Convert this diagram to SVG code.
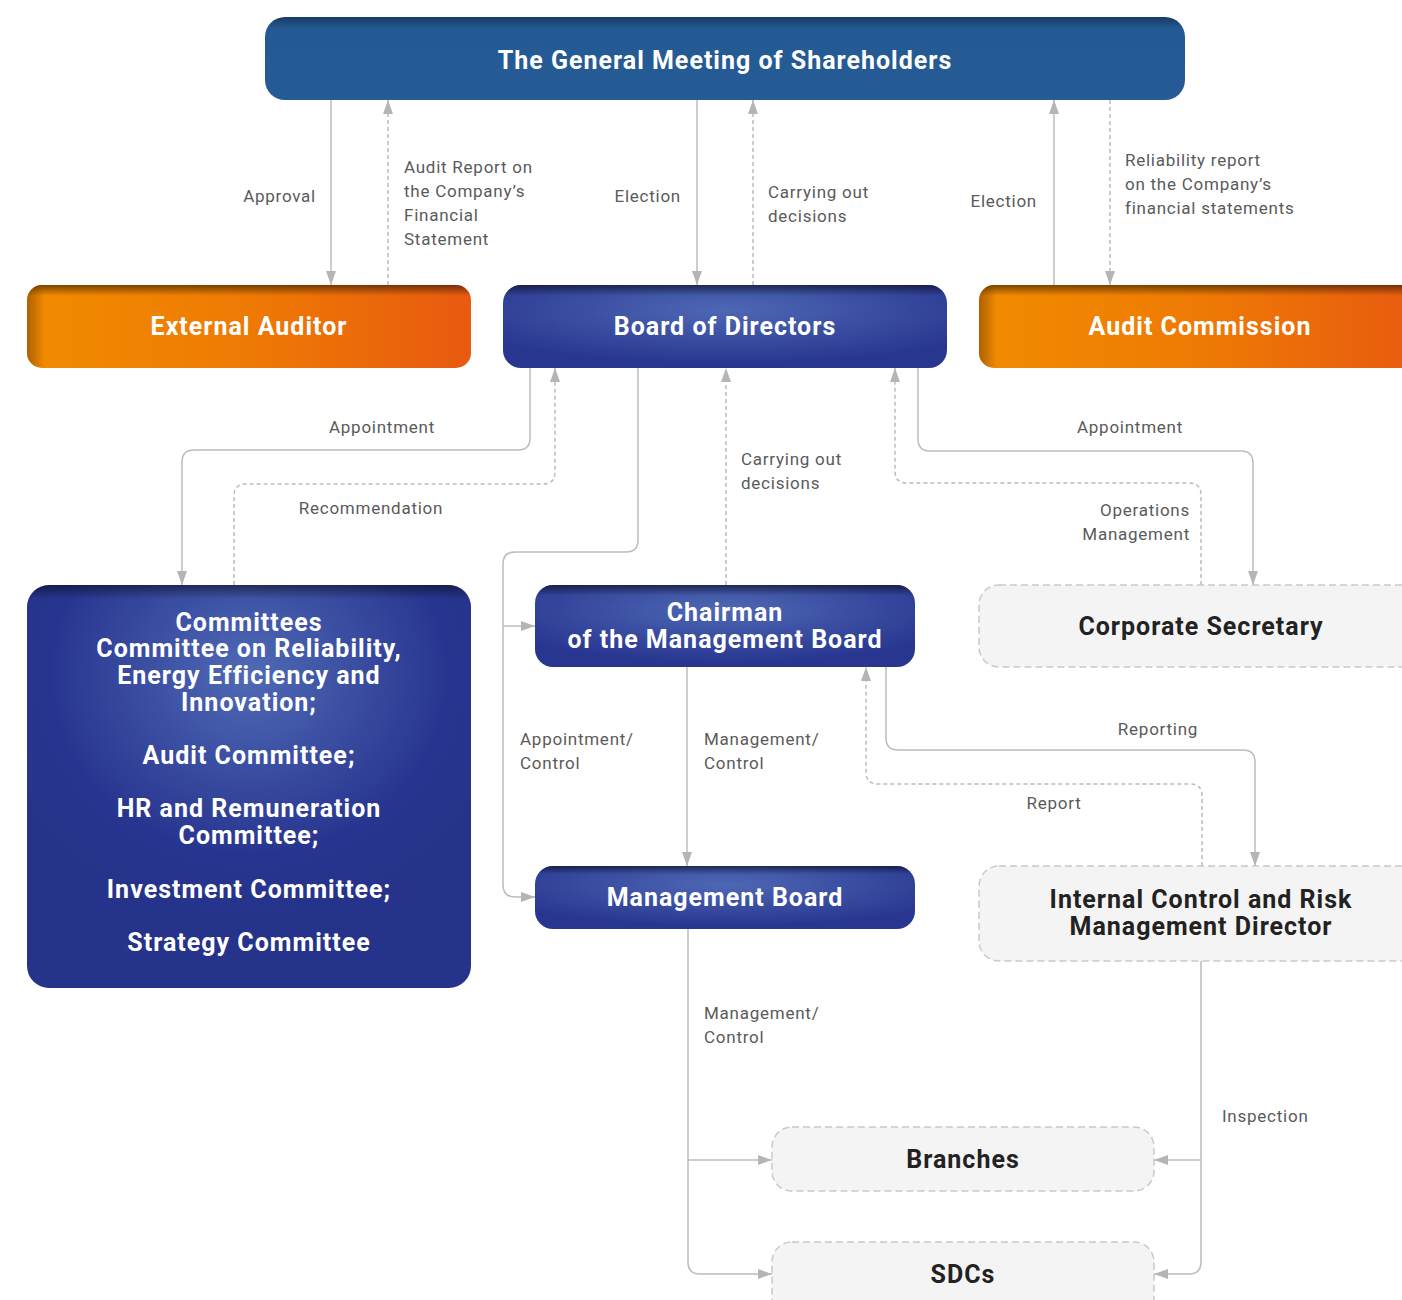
<svg xmlns="http://www.w3.org/2000/svg" width="1402" height="1300" viewBox="0 0 1402 1300">
<defs>
<marker id="arr" viewBox="0 0 14 10" refX="14" refY="5" markerWidth="14" markerHeight="10" markerUnits="userSpaceOnUse" orient="auto">
<path d="M0,0 L14,5 L0,10 z" fill="#b5b5b5"/>
</marker>
<linearGradient id="gmsFill" x1="0" y1="0" x2="0" y2="1">
<stop offset="0" stop-color="#193a66"/>
<stop offset="0.14" stop-color="#245a93"/>
<stop offset="1" stop-color="#265b95"/>
</linearGradient>
<linearGradient id="orange" x1="0" y1="0" x2="1" y2="0">
<stop offset="0" stop-color="#f28c00"/>
<stop offset="0.5" stop-color="#ee7a04"/>
<stop offset="1" stop-color="#e85a10"/>
</linearGradient>
<radialGradient id="blue" cx="0.5" cy="0.3" r="0.65">
<stop offset="0" stop-color="#4e68b4"/>
<stop offset="1" stop-color="#283690"/>
</radialGradient>
<radialGradient id="blueBig" cx="0.5" cy="0.22" r="0.6">
<stop offset="0" stop-color="#4f6ab5"/>
<stop offset="0.75" stop-color="#283590"/>
<stop offset="1" stop-color="#26338a"/>
</radialGradient>
<linearGradient id="topShade" x1="0" y1="0" x2="0" y2="1">
<stop offset="0" stop-color="#000" stop-opacity="0.5"/>
<stop offset="0.13" stop-color="#000" stop-opacity="0"/>
<stop offset="1" stop-color="#000" stop-opacity="0"/>
</linearGradient>
<linearGradient id="topShadeBig" x1="0" y1="0" x2="0" y2="1">
<stop offset="0" stop-color="#000" stop-opacity="0.45"/>
<stop offset="0.035" stop-color="#000" stop-opacity="0"/>
<stop offset="1" stop-color="#000" stop-opacity="0"/>
</linearGradient>
<linearGradient id="leftShade" x1="0" y1="0" x2="1" y2="0">
<stop offset="0" stop-color="#5a2a00" stop-opacity="0.45"/>
<stop offset="0.04" stop-color="#5a2a00" stop-opacity="0"/>
<stop offset="1" stop-color="#5a2a00" stop-opacity="0"/>
</linearGradient>
<style>
.ln{fill:none;stroke:#bcbcbc;stroke-width:1.5}
.dsh{stroke-dasharray:4 3}
.lbl{font-family:Roboto,"Liberation Sans",sans-serif;font-size:17px;fill:#5a5a5a;letter-spacing:0.75px}
.ttl{font-family:Roboto,"Liberation Sans",sans-serif;font-weight:700;font-size:25px;fill:#fff;text-anchor:middle;letter-spacing:1px}
.drk{fill:#222}
.light{fill:#f4f4f4;stroke:#c9c9c9;stroke-width:1.5;stroke-dasharray:7 4}
</style>
</defs>
<rect width="1402" height="1300" fill="#fff"/>

<g id="connectors">
<path class="ln" d="M331,100 V285" marker-end="url(#arr)"/>
<path class="ln dsh" d="M388,285 V100" marker-end="url(#arr)"/>
<path class="ln" d="M697,100 V285" marker-end="url(#arr)"/>
<path class="ln dsh" d="M753,285 V100" marker-end="url(#arr)"/>
<path class="ln" d="M1054,285 V100" marker-end="url(#arr)"/>
<path class="ln dsh" d="M1110,100 V285" marker-end="url(#arr)"/>
<path class="ln" d="M530,368 V438 Q530,450 518,450 H194 Q182,450 182,462 V585" marker-end="url(#arr)"/>
<path class="ln dsh" d="M234,585 V496 Q234,484 246,484 H543 Q555,484 555,472 V368" marker-end="url(#arr)"/>
<path class="ln" d="M638,368 V540 Q638,552 626,552 H515 Q503,552 503,564 V885 Q503,897 515,897 H535" marker-end="url(#arr)"/>
<path class="ln" d="M503,626 H535" marker-end="url(#arr)"/>
<path class="ln dsh" d="M726,585 V368" marker-end="url(#arr)"/>
<path class="ln" d="M918,368 V439 Q918,451 930,451 H1241 Q1253,451 1253,463 V585" marker-end="url(#arr)"/>
<path class="ln dsh" d="M1201,585 V495 Q1201,483 1189,483 H907 Q895,483 895,471 V368" marker-end="url(#arr)"/>
<path class="ln" d="M687,667 V866" marker-end="url(#arr)"/>
<path class="ln" d="M886,667 V738 Q886,750 898,750 H1243 Q1255,750 1255,762 V866" marker-end="url(#arr)"/>
<path class="ln dsh" d="M1202,866 V796 Q1202,784 1190,784 H878 Q866,784 866,772 V667" marker-end="url(#arr)"/>
<path class="ln" d="M688,929 V1262 Q688,1274 700,1274 H772" marker-end="url(#arr)"/>
<path class="ln" d="M688,1160 H772" marker-end="url(#arr)"/>
<path class="ln" d="M1201,961 V1262 Q1201,1274 1189,1274 H1154" marker-end="url(#arr)"/>
<path class="ln" d="M1201,1160 H1154" marker-end="url(#arr)"/>

<text class="lbl" x="316" y="202" text-anchor="end">Approval</text>
<text class="lbl" x="404" y="173">Audit Report on</text>
<text class="lbl" x="404" y="197">the Company’s</text>
<text class="lbl" x="404" y="221">Financial</text>
<text class="lbl" x="404" y="245">Statement</text>
<text class="lbl" x="681" y="202" text-anchor="end">Election</text>
<text class="lbl" x="768" y="198">Carrying out</text>
<text class="lbl" x="768" y="222">decisions</text>
<text class="lbl" x="1037" y="207" text-anchor="end">Election</text>
<text class="lbl" x="1125" y="166">Reliability report</text>
<text class="lbl" x="1125" y="190">on the Company’s</text>
<text class="lbl" x="1125" y="214">financial statements</text>
<text class="lbl" x="382" y="433" text-anchor="middle">Appointment</text>
<text class="lbl" x="371" y="514" text-anchor="middle">Recommendation</text>
<text class="lbl" x="741" y="465">Carrying out</text>
<text class="lbl" x="741" y="489">decisions</text>
<text class="lbl" x="1130" y="433" text-anchor="middle">Appointment</text>
<text class="lbl" x="1190" y="516" text-anchor="end">Operations</text>
<text class="lbl" x="1190" y="540" text-anchor="end">Management</text>
<text class="lbl" x="520" y="745">Appointment/</text>
<text class="lbl" x="520" y="769">Control</text>
<text class="lbl" x="704" y="745">Management/</text>
<text class="lbl" x="704" y="769">Control</text>
<text class="lbl" x="1158" y="735" text-anchor="middle">Reporting</text>
<text class="lbl" x="1054" y="809" text-anchor="middle">Report</text>
<text class="lbl" x="704" y="1019">Management/</text>
<text class="lbl" x="704" y="1043">Control</text>
<text class="lbl" x="1222" y="1122">Inspection</text>
</g>

<g id="gms">
<rect x="265" y="17" width="920" height="83" rx="20" fill="url(#gmsFill)"/>
<text class="ttl" x="725" y="69">The General Meeting of Shareholders</text>
</g>

<g id="external-auditor">
<rect x="27" y="285" width="444" height="83" rx="15" fill="url(#orange)"/>
<rect x="27" y="285" width="444" height="83" rx="15" fill="url(#topShade)"/>
<rect x="27" y="285" width="444" height="83" rx="15" fill="url(#leftShade)"/>
<text class="ttl" x="249" y="335">External Auditor</text>
</g>

<g id="board">
<rect x="503" y="285" width="444" height="83" rx="18" fill="url(#blue)"/>
<rect x="503" y="285" width="444" height="83" rx="18" fill="url(#topShade)"/>
<text class="ttl" x="725" y="335">Board of Directors</text>
</g>

<g id="audit-commission">
<rect x="979" y="285" width="444" height="83" rx="15" fill="url(#orange)"/>
<rect x="979" y="285" width="444" height="83" rx="15" fill="url(#topShade)"/>
<rect x="979" y="285" width="444" height="83" rx="15" fill="url(#leftShade)"/>
<text class="ttl" x="1200" y="335">Audit Commission</text>
</g>

<g id="committees">
<rect x="27" y="585" width="444" height="403" rx="22" fill="url(#blueBig)"/>
<rect x="27" y="585" width="444" height="403" rx="22" fill="url(#topShadeBig)"/>
<text class="ttl" x="249" y="631">Committees</text>
<text class="ttl" x="249" y="657">Committee on Reliability,</text>
<text class="ttl" x="249" y="684">Energy Efficiency and</text>
<text class="ttl" x="249" y="711">Innovation;</text>
<text class="ttl" x="249" y="764">Audit Committee;</text>
<text class="ttl" x="249" y="817">HR and Remuneration</text>
<text class="ttl" x="249" y="844">Committee;</text>
<text class="ttl" x="249" y="898">Investment Committee;</text>
<text class="ttl" x="249" y="951">Strategy Committee</text>
</g>

<g id="chairman">
<rect x="535" y="585" width="380" height="82" rx="18" fill="url(#blue)"/>
<rect x="535" y="585" width="380" height="82" rx="18" fill="url(#topShade)"/>
<text class="ttl" x="725" y="621">Chairman</text>
<text class="ttl" x="725" y="648">of the Management Board</text>
</g>

<g id="corporate-secretary">
<rect class="light" x="979" y="585" width="444" height="82" rx="20"/>
<text class="ttl drk" x="1201" y="635">Corporate Secretary</text>
</g>

<g id="management-board">
<rect x="535" y="866" width="380" height="63" rx="18" fill="url(#blue)"/>
<rect x="535" y="866" width="380" height="63" rx="18" fill="url(#topShade)"/>
<text class="ttl" x="725" y="906">Management Board</text>
</g>

<g id="icrm-director">
<rect class="light" x="979" y="866" width="444" height="95" rx="20"/>
<text class="ttl drk" x="1201" y="908">Internal Control and Risk</text>
<text class="ttl drk" x="1201" y="935">Management Director</text>
</g>

<g id="branches">
<rect class="light" x="772" y="1127" width="382" height="64" rx="20"/>
<text class="ttl drk" x="963" y="1168">Branches</text>
</g>

<g id="sdcs">
<rect class="light" x="772" y="1242" width="382" height="80" rx="20"/>
<text class="ttl drk" x="963" y="1283">SDCs</text>
</g>
</svg>
